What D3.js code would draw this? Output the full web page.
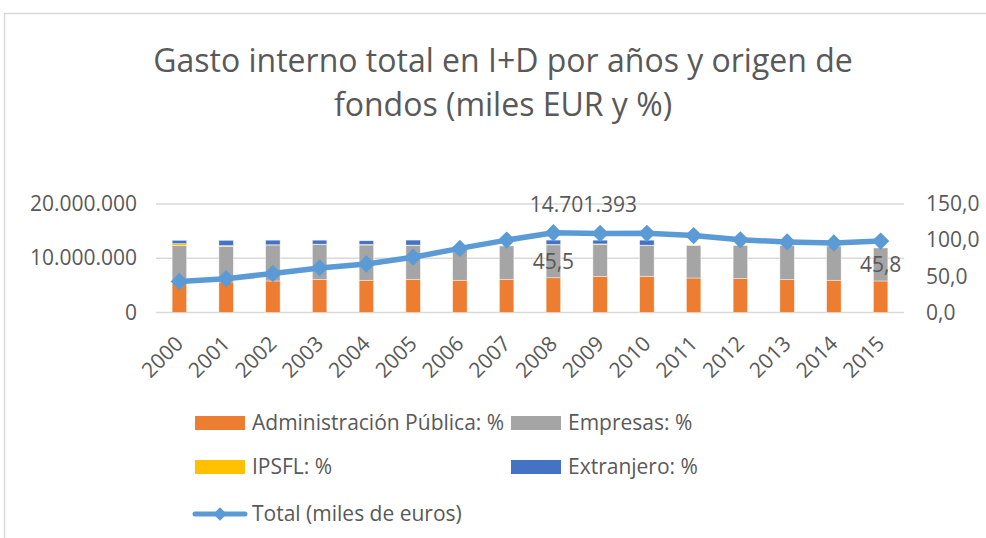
<!DOCTYPE html>
<html><head><meta charset="utf-8">
<script src="https://cdn.jsdelivr.net/npm/d3@7"></script>
<style>
html,body{margin:0;padding:0;background:#fff;}
text{font-family:"Open Sans",sans-serif;fill:#595959;}
</style></head>
<body>
<svg id="chart" width="986" height="538"></svg>
<script>
const years = ["2000","2001","2002","2003","2004","2005","2006","2007","2008","2009","2010","2011","2012","2013","2014","2015"];
const administracion = [40.0,42.2,43.6,45.5,44.6,46.0,44.6,46.0,48.0,50.0,50.1,47.7,46.9,45.5,44.6,43.6];
const empresas       = [52.4,49.3,49.7,48.7,48.7,46.9,46.9,46.0,45.5,44.0,42.8,45.1,46.0,47.3,47.3,45.8];
const ipsfl          = [2.8,1.0,0.3,0.3,0.8,0.3,0,0,0.6,0.8,0.2,0.5,0.5,0.4,0.4,0.4];
const extranjero     = [4.6,7.3,6.4,5.5,5.1,6.9,0,0,6.0,5.2,6.9,0,0,0,0,0];
const total = [5719000,6227157,7193538,8213036,8945761,10196871,11815218,13342371,14701393,14581676,14588455,14184295,13391607,13011798,12820756,13171807];
const leftTicks = [0,10000000,20000000];
const rightTicks = [0,50,100,150];
const seriesNames = ["Administración Pública: %","Empresas: %","IPSFL: %","Extranjero: %"];
const lineName = "Total (miles de euros)";
const titleLines = ["Gasto interno total en I+D por años y origen de","fondos (miles EUR y %)"];

const colors = ["#ED7D31","#A5A5A5","#FFC000","#4472C4"];
const lineColor = "#5B9BD5";
const locale = d3.formatLocale({decimal:",",thousands:".",grouping:[3],currency:["","€"]});
const fmtInt = locale.format(",.0f");
const fmt1 = locale.format(",.1f");

const svg = d3.select("#chart");
svg.append("rect").attr("x",4.5).attr("y",13.5).attr("width",1000).attr("height",600)
  .attr("fill","#fff").attr("stroke","#D9D9D9").attr("stroke-width",1.5);

// title
const title = svg.append("text").attr("text-anchor","middle").style("font-size","32px");
titleLines.forEach((t,i)=>{
  title.append("tspan").attr("x",503).attr("y",72+i*44).text(t);
});

const x = d3.scaleBand().domain(years).range([156,904]).paddingInner(0.69).paddingOuter(0.345);
const yL = d3.scaleLinear().domain([0,20000000]).range([312.5,204]);
const yR = d3.scaleLinear().domain([0,150]).range([312.5,204]);

// gridlines
svg.append("g").selectAll("line").data(leftTicks).join("line")
  .attr("x1",156).attr("x2",904).attr("y1",d=>yL(d)).attr("y2",d=>yL(d))
  .attr("stroke","#D9D9D9").attr("stroke-width",1.5);

// axes
const gL = svg.append("g").attr("transform","translate(156,0)")
  .call(d3.axisLeft(yL).tickValues(leftTicks).tickSize(0).tickPadding(19).tickFormat(fmtInt));
gL.select(".domain").remove();
gL.selectAll("text").style("font-size","21px").attr("fill","#595959");

const gR = svg.append("g").attr("transform","translate(904,0)")
  .call(d3.axisRight(yR).tickValues(rightTicks).tickSize(0).tickPadding(22).tickFormat(fmt1));
gR.select(".domain").remove();
gR.selectAll("text").style("font-size","21px").attr("fill","#595959");

// stacked bars
const data = years.map((y,i)=>({year:y,a:administracion[i],e:empresas[i],p:ipsfl[i],x:extranjero[i]}));
const stack = d3.stack().keys(["a","e","p","x"])(data);
svg.append("g").selectAll("g").data(stack).join("g").attr("fill",(d,i)=>colors[i])
  .selectAll("rect").data(d=>d).join("rect")
  .attr("x",d=>x(d.data.year)).attr("width",x.bandwidth())
  .attr("y",d=>yR(d[1])).attr("height",d=>Math.max(0,yR(d[0])-yR(d[1])))
  .attr("stroke","#fff").attr("stroke-width",0.6).attr("stroke-opacity",0.7);

// x axis labels
const gX = svg.append("g");
gX.selectAll("text").data(years).join("text")
  .attr("transform",d=>`translate(${x(d)+x.bandwidth()/2+5},345) rotate(-45)`)
  .attr("text-anchor","end").style("font-size","21px").text(d=>d);

// line
const cx = d=>x(d)+x.bandwidth()/2;
const line = d3.line().x((d,i)=>cx(years[i])).y(d=>yL(d));
svg.append("path").datum(total).attr("d",line).attr("fill","none")
  .attr("stroke",lineColor).attr("stroke-width",5.5).attr("stroke-linejoin","round");
const diamond = d3.symbol(d3.symbolSquare,150);
svg.append("g").selectAll("path").data(total).join("path")
  .attr("d",diamond).attr("fill",lineColor)
  .attr("transform",(d,i)=>`translate(${cx(years[i])},${yL(d)}) rotate(45)`);

// data labels
const i08 = years.indexOf("2008"), i15 = years.indexOf("2015");
svg.append("text").attr("x",cx(years[i08])+30).attr("y",yL(total[i08])-21)
  .attr("text-anchor","middle").style("font-size","21px").text(fmtInt(total[i08]));
[i08,i15].forEach(i=>{
  const mid = (yR(administracion[i])+yR(administracion[i]+empresas[i]))/2;
  svg.append("text").attr("x",cx(years[i])).attr("y",mid).attr("dy","0.35em")
    .attr("text-anchor","middle").style("font-size","21px").text(fmt1(empresas[i]));
});

// legend
const leg = svg.append("g");
const pos = [[195,423],[511,423],[195,467],[511,467]];
seriesNames.forEach((n,i)=>{
  leg.append("rect").attr("x",pos[i][0]).attr("y",pos[i][1]-7).attr("width",50).attr("height",14).attr("fill",colors[i]);
  leg.append("text").attr("x",pos[i][0]+57).attr("y",pos[i][1]).attr("dy","0.35em").style("font-size","21px").text(n);
});
leg.append("line").attr("x1",195).attr("x2",245).attr("y1",514).attr("y2",514)
  .attr("stroke",lineColor).attr("stroke-width",5).attr("stroke-linecap","round");
leg.append("path").attr("d",d3.symbol(d3.symbolSquare,90)).attr("fill",lineColor)
  .attr("transform","translate(220,514) rotate(45)");
leg.append("text").attr("x",252).attr("y",514).attr("dy","0.35em").style("font-size","21px").text(lineName);
</script>
</body></html>
